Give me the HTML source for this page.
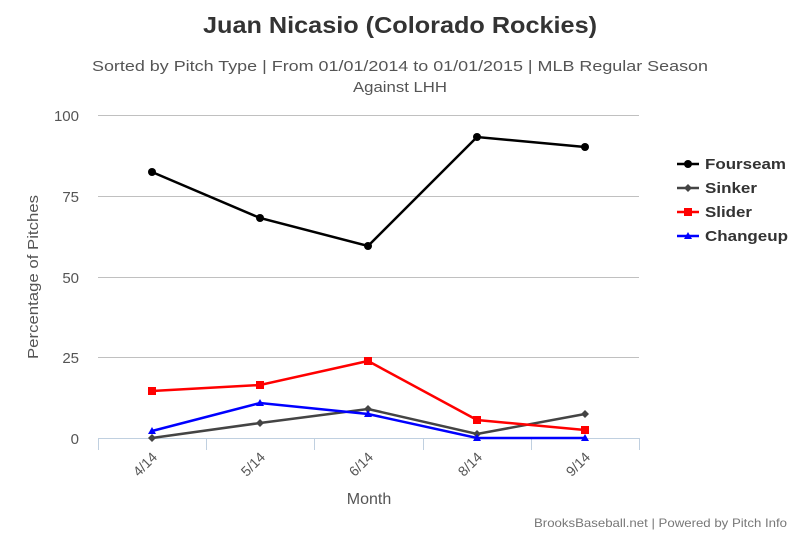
<!DOCTYPE html>
<html><head><style>body{margin:0;background:#fff}svg{display:block;font-family:"Liberation Sans",sans-serif}</style></head>
<body>
<svg width="800" height="533" xmlns="http://www.w3.org/2000/svg">
<text x="203" y="33" textLength="394" lengthAdjust="spacingAndGlyphs" font-size="23" font-weight="bold" fill="#333">Juan Nicasio (Colorado Rockies)</text>
<text x="92" y="71" textLength="616" lengthAdjust="spacingAndGlyphs" font-size="15" fill="#555">Sorted by Pitch Type | From 01/01/2014 to 01/01/2015 | MLB Regular Season</text>
<text x="353" y="92" textLength="94" lengthAdjust="spacingAndGlyphs" font-size="15" fill="#555">Against LHH</text>
<g stroke="#c0c0c0" stroke-width="1">
<line x1="98" x2="639" y1="115.5" y2="115.5"/><line x1="98" x2="639" y1="196.5" y2="196.5"/><line x1="98" x2="639" y1="277.5" y2="277.5"/><line x1="98" x2="639" y1="357.5" y2="357.5"/>
</g>
<g stroke="#c0d0e0" stroke-width="1">
<line x1="98" x2="639" y1="438.5" y2="438.5"/>
<line x1="98.5" x2="98.5" y1="438" y2="450"/><line x1="206.5" x2="206.5" y1="438" y2="450"/><line x1="314.5" x2="314.5" y1="438" y2="450"/><line x1="423.5" x2="423.5" y1="438" y2="450"/><line x1="531.5" x2="531.5" y1="438" y2="450"/><line x1="639.5" x2="639.5" y1="438" y2="450"/>
</g>
<g font-size="15" fill="#555" text-anchor="end">
<text x="79" y="121">100</text><text x="79" y="202">75</text><text x="79" y="283">50</text><text x="79" y="363">25</text><text x="79" y="444">0</text>
</g>
<text transform="translate(38,277) rotate(-90)" text-anchor="middle" font-size="15" fill="#555" textLength="164" lengthAdjust="spacingAndGlyphs">Percentage of Pitches</text>
<g font-size="14" fill="#555" text-anchor="end">
<text transform="translate(158,458) rotate(-45)">4/14</text>
<text transform="translate(266,458) rotate(-45)">5/14</text>
<text transform="translate(374,458) rotate(-45)">6/14</text>
<text transform="translate(483,458) rotate(-45)">8/14</text>
<text transform="translate(591,458) rotate(-45)">9/14</text>
</g>
<text x="369" y="504" text-anchor="middle" font-size="16" fill="#555">Month</text>
<text x="787" y="527" text-anchor="end" font-size="12" fill="#777" textLength="253" lengthAdjust="spacingAndGlyphs">BrooksBaseball.net | Powered by Pitch Info</text>
<polyline fill="none" stroke="#000" stroke-width="2.5" points="152,172 260,218 368,246 477,137 585,147"/>
<g fill="#000"><circle cx="152" cy="172" r="4"/><circle cx="260" cy="218" r="4"/><circle cx="368" cy="246" r="4"/><circle cx="477" cy="137" r="4"/><circle cx="585" cy="147" r="4"/></g>
<polyline fill="none" stroke="#444" stroke-width="2.5" points="152,438 260,423 368,409 477,434 585,414"/>
<g fill="#444"><path d="M152 434l4 4-4 4-4-4z"/><path d="M260 419l4 4-4 4-4-4z"/><path d="M368 405l4 4-4 4-4-4z"/><path d="M477 430l4 4-4 4-4-4z"/><path d="M585 410l4 4-4 4-4-4z"/></g>
<polyline fill="none" stroke="#f00" stroke-width="2.5" points="152,391 260,385 368,361 477,420 585,430"/>
<g fill="#f00"><rect x="148" y="387" width="8" height="8"/><rect x="256" y="381" width="8" height="8"/><rect x="364" y="357" width="8" height="8"/><rect x="473" y="416" width="8" height="8"/><rect x="581" y="426" width="8" height="8"/></g>
<polyline fill="none" stroke="#00f" stroke-width="2.5" points="152,431 260,403 368,414 477,438 585,438"/>
<g fill="#00f"><path d="M152 427l4 7h-8z"/><path d="M260 399l4 7h-8z"/><path d="M368 410l4 7h-8z"/><path d="M477 434l4 7h-8z"/><path d="M585 434l4 7h-8z"/></g>
<g font-size="15" font-weight="bold" fill="#333">
<line x1="677" x2="699" y1="164" y2="164" stroke="#000" stroke-width="2.5"/><circle cx="688" cy="164" r="4" fill="#000"/><text x="705" y="169" textLength="81" lengthAdjust="spacingAndGlyphs">Fourseam</text>
<line x1="677" x2="699" y1="188" y2="188" stroke="#444" stroke-width="2.5"/><path d="M688 184l4 4-4 4-4-4z" fill="#444"/><text x="705" y="193" textLength="52" lengthAdjust="spacingAndGlyphs">Sinker</text>
<line x1="677" x2="699" y1="212" y2="212" stroke="#f00" stroke-width="2.5"/><rect x="684" y="208" width="8" height="8" fill="#f00"/><text x="705" y="217" textLength="47" lengthAdjust="spacingAndGlyphs">Slider</text>
<line x1="677" x2="699" y1="236" y2="236" stroke="#00f" stroke-width="2.5"/><path d="M688 232l4 7h-8z" fill="#00f"/><text x="705" y="241" textLength="83" lengthAdjust="spacingAndGlyphs">Changeup</text>
</g>
</svg>
</body></html>
